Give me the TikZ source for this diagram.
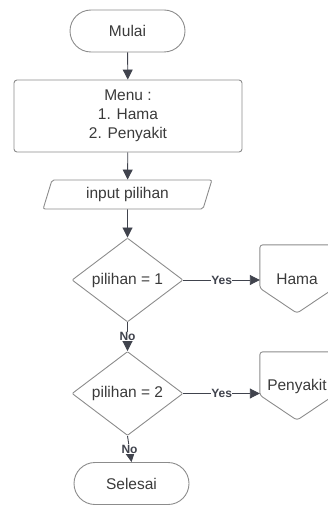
\documentclass[tikz,border=0pt]{standalone}
\usepackage{fontspec}
\setmainfont{Liberation Sans}
\usetikzlibrary{shapes.geometric,arrows.meta}

\definecolor{garis}{HTML}{8C8C8C}
\definecolor{teks}{HTML}{3A3A3A}
\definecolor{panah}{HTML}{40434D}
\newcommand{\hurufbesar}{\fontsize{15.5}{19}\selectfont}
\newcommand{\hurufkecil}{\fontsize{12}{13}\selectfont\bfseries}

\tikzset{
  bentuk/.style={draw=garis, line width=0.9pt, text=teks, font=\hurufbesar},
  terminal/.style={bentuk, rectangle, rounded corners=21pt, minimum width=115pt, minimum height=42pt},
  proses/.style={bentuk, rectangle, rounded corners=3pt, minimum width=228pt, minimum height=72pt, align=center},
  masukan/.style={bentuk, trapezium, trapezium stretches=true, trapezium left angle=76, trapezium right angle=104, rounded corners=2pt, minimum width=169pt, minimum height=29pt},
  keputusan/.style={bentuk, diamond, aspect=1.32, inner sep=1pt, rounded corners=1pt, minimum width=111pt, minimum height=84pt},
  konektor/.style={rectangle, text=teks, font=\hurufbesar, minimum width=74pt, minimum height=68pt},
  tepi/.style={draw=garis, line width=0.9pt, rounded corners=3pt},
  alur/.style={draw=panah, line width=0.9pt, -{Triangle[length=10pt,width=10pt]}},
  ket/.style={fill=white, inner sep=0.5pt, text=panah, font=\hurufkecil}
}

\begin{document}
\begin{tikzpicture}[x=1pt,y=-1pt]
  \useasboundingbox (0,0) rectangle (327,505);

  \node[terminal] (mulai) at (127.5,31) {Mulai};
  \node[proses] (menu) at (128,116) {Menu :\\1. Hama\\2. Penyakit};
  \node[masukan] (input) at (127.5,194.5) {input pilihan};
  \node[keputusan] (pil1) at (127.5,280) {pilihan = 1};
  \node[keputusan] (pil2) at (127.5,393.5) {pilihan = 2};
  \node[konektor] (hama) at (297,279) {Hama};
  \node[konektor] (penyakit) at (297,386) {Penyakit};
  \node[terminal] (selesai) at (131.5,483.5) {Selesai};

  % off-page connector outlines
  \foreach \k in {hama,penyakit}
    \draw[tepi] (\k.north west) -- (\k.north east) -- ([yshift=25pt]\k.south east)
      -- (\k.south) -- ([yshift=25pt]\k.south west) -- cycle;

  \draw[alur] (mulai) -- (menu);
  \draw[alur] (menu) -- (input);
  \draw[alur] (input) -- (pil1);
  \draw[alur] (pil1.east) -- node[ket] {Yes} (pil1.east -| hama.west);
  \draw[alur] (pil1.south) -- node[ket] {No} (pil2.north);
  \draw[alur] (pil2.east) -- node[ket] {Yes} (pil2.east -| penyakit.west);
  \draw[alur] (pil2.south) -- node[ket] {No} (selesai.north);
\end{tikzpicture}
\end{document}
